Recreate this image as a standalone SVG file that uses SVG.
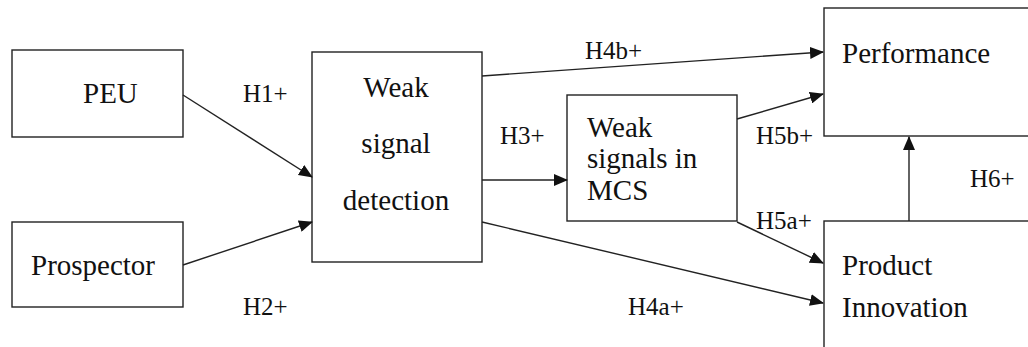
<svg xmlns="http://www.w3.org/2000/svg" width="1028" height="347" viewBox="0 0 1028 347">
<style>
.box{fill:#fff;stroke:#222;stroke-width:1.4}
.t{font-size:29px;fill:#111}
.l{font-size:25px;fill:#111}
.c{stroke:#222;stroke-width:1.4;fill:none;marker-end:url(#ah)}
</style>
<defs>
<marker id="ah" markerWidth="14" markerHeight="12" refX="13" refY="6" orient="auto" markerUnits="userSpaceOnUse">
<path d="M0,0 L14,6 L0,12 Z" fill="#111"/>
</marker>
</defs>
<rect width="1028" height="347" fill="#fff"/>
<g font-family="Liberation Serif, serif">
<g id="peu"><rect class="box" x="12" y="50" width="171" height="87"/><text class="t" x="83" y="103">PEU</text></g>
<g id="prospector"><rect class="box" x="12" y="222" width="171" height="85"/><text class="t" x="31" y="275">Prospector</text></g>
<g id="wsd"><rect class="box" x="312" y="52" width="170" height="210"/>
<text class="t" x="396" y="97" text-anchor="middle">Weak</text>
<text class="t" x="396" y="153" text-anchor="middle">signal</text>
<text class="t" x="396" y="210" text-anchor="middle">detection</text></g>
<g id="mcs"><rect class="box" x="567" y="95" width="170" height="126"/>
<text class="t" x="587" y="137">Weak</text>
<text class="t" x="587" y="168">signals in</text>
<text class="t" x="587" y="200">MCS</text></g>
<g id="performance"><rect class="box" x="824" y="8" width="220" height="128"/><text class="t" x="842" y="63">Performance</text></g>
<g id="innovation"><rect class="box" x="824" y="221" width="220" height="140"/>
<text class="t" x="842" y="275">Product</text>
<text class="t" x="842" y="317">Innovation</text></g>
<g id="connectors">
<line class="c" x1="183" y1="95" x2="312" y2="177"/>
<line class="c" x1="183" y1="265" x2="312" y2="222"/>
<line class="c" x1="482" y1="180" x2="567" y2="180"/>
<line class="c" x1="482" y1="76" x2="823" y2="52"/>
<line class="c" x1="482" y1="222" x2="823" y2="303"/>
<line class="c" x1="737" y1="119" x2="823" y2="94"/>
<line class="c" x1="737" y1="222" x2="823" y2="263"/>
<line class="c" x1="909" y1="221" x2="909" y2="137"/>
</g>
<g id="labels">
<text class="l" x="243" y="102">H1+</text>
<text class="l" x="243" y="315">H2+</text>
<text class="l" x="500" y="144">H3+</text>
<text class="l" x="585" y="59">H4b+</text>
<text class="l" x="628" y="315">H4a+</text>
<text class="l" x="756" y="144">H5b+</text>
<text class="l" x="756" y="229">H5a+</text>
<text class="l" x="970" y="187">H6+</text>
</g>
</g>
</svg>
